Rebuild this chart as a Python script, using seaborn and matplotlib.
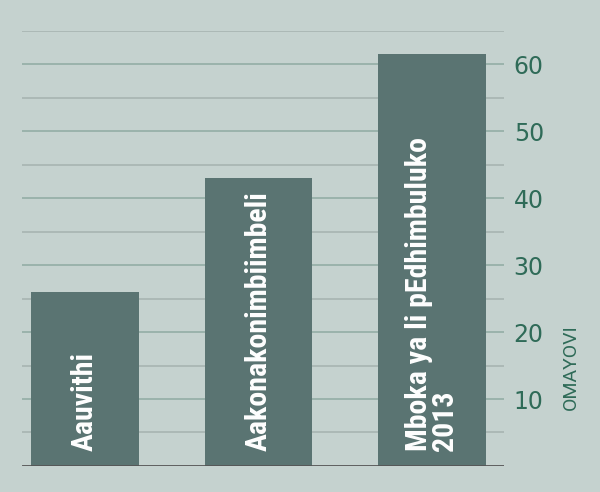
import seaborn as sns
import pandas as pd
import matplotlib.pyplot as plt
from matplotlib.ticker import FixedLocator

categories = ['Aauvithi', 'Aakonakonimbiimbeli', 'Mboka ya li pEdhimbuluko\n2013']
values = [26, 43, 61.5]
major_ticks = [10, 20, 30, 40, 50, 60]
minor_ticks = [5, 15, 25, 35, 45, 55, 65]
axis_label = 'OMAYOVI'

bg = '#c5d2cf'
bar_color = '#5a7472'
text_green = '#2f6b58'
narrow = ['Roboto Condensed', 'Roboto']

df = pd.DataFrame({'cat': categories, 'val': values})

sns.set_style('white')
fig = plt.figure(figsize=(6, 4.92), dpi=100, facecolor=bg)
ax = fig.add_axes([0.037, 0.053, 0.803, 0.884])
ax.set_facecolor(bg)

sns.barplot(data=df, x='cat', y='val', color=bar_color, width=0.62,
            saturation=1, ax=ax, zorder=3, linewidth=0)

ax.set_ylim(0, 65)
ax.set_xlim(-0.363, 2.415)

# gridlines: tens are greener, fives greyer
ax.yaxis.set_major_locator(FixedLocator(major_ticks))
ax.yaxis.set_minor_locator(FixedLocator(minor_ticks))
ax.grid(axis='y', which='major', color='#93ada5', linewidth=1.2, zorder=0)
ax.grid(axis='y', which='minor', color='#a8b5b2', linewidth=1.2, zorder=0)
ax.yaxis.tick_right()
ax.tick_params(axis='y', which='both', length=0, pad=7, labelsize=17,
               labelcolor=text_green)
for t in ax.get_yticklabels():
    t.set_family('DejaVu Sans')
    t.set_fontstretch('normal')
ax.set_xticks([])
ax.set_xlabel('')
ax.set_ylabel('')
for s in ax.spines.values():
    s.set_visible(False)
ax.axhline(0, color='#555555', linewidth=2, zorder=4)

fig.text(0.952, 0.167, axis_label, rotation=90, ha='center', va='bottom',
         color=text_green, fontsize=14, family='Roboto')

# labels inside bars
for i, name in enumerate(categories):
    ax.text(i, 2.2, name, rotation=90, ha='center', va='bottom', color='white',
            fontsize=21.5, fontweight='bold', family=narrow,
            multialignment='left', linespacing=0.9, zorder=5)

fig.savefig('out.png', dpi=100, facecolor=bg)
